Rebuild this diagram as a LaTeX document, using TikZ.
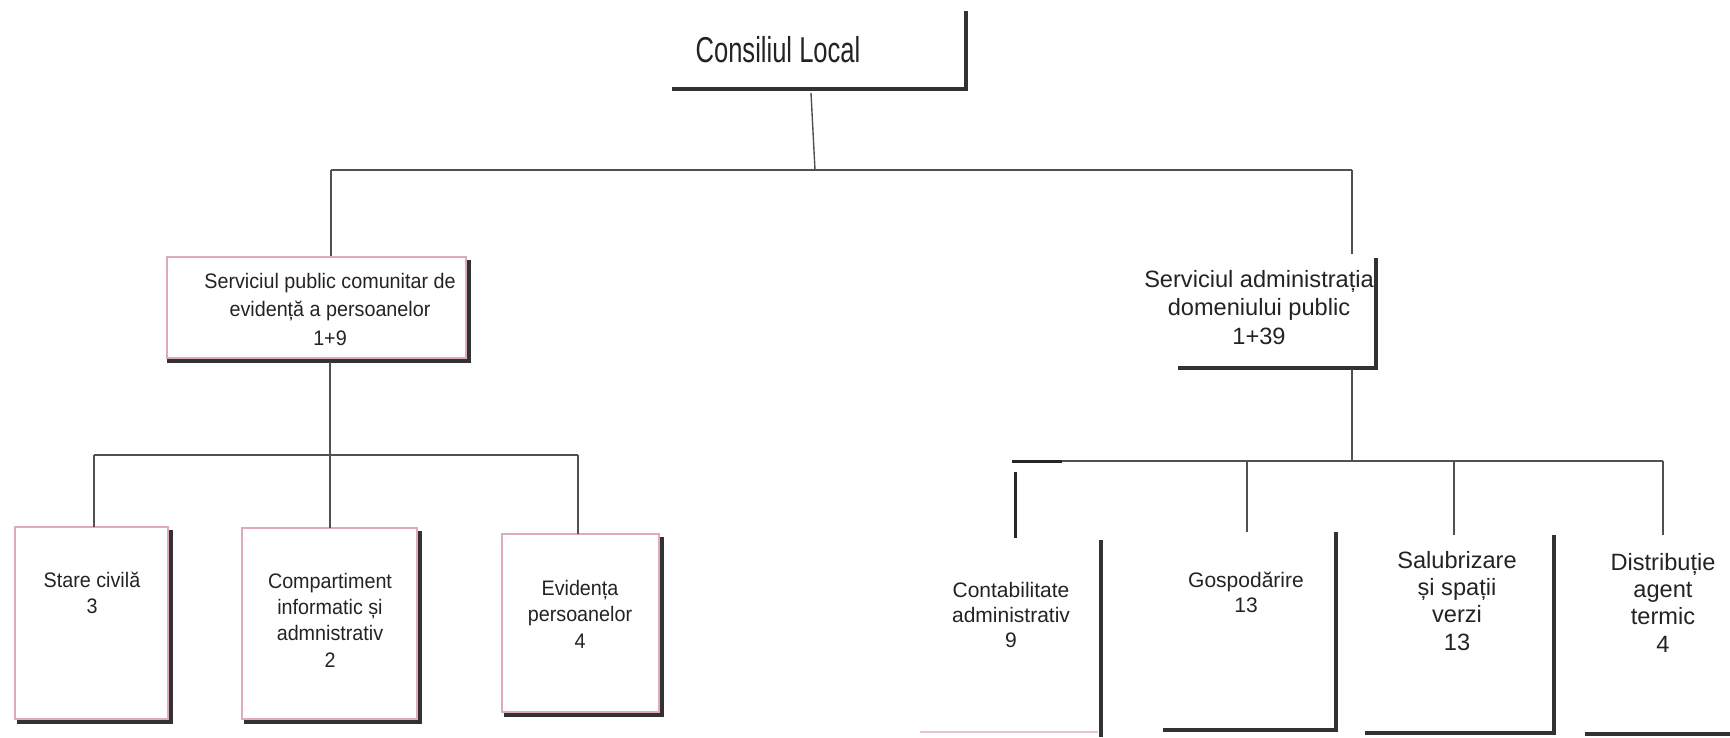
\documentclass[tikz,border=0pt]{standalone}
\usepackage{fontspec}
\setmainfont{Liberation Sans}
\newfontfamily\narrowf[FakeStretch=0.94]{Liberation Sans}
\newfontfamily\cnarrow[FakeStretch=0.71]{Liberation Sans}
\usetikzlibrary{calc}
\definecolor{pinkline}{RGB}{222,170,188}
\definecolor{shad}{RGB}{50,50,50}
\definecolor{conn}{RGB}{80,80,80}
\definecolor{txt}{RGB}{35,35,35}
\begin{document}
\begin{tikzpicture}[x=1pt,y=-1pt,
  plainbox/.style n args={2}{minimum width=#1, minimum height=#2, inner sep=0, outer sep=0, draw=none},
  pinkbox/.style n args={2}{minimum width=#1, minimum height=#2, inner sep=0, outer sep=0, draw=pinkline, line width=1.2pt},
  shadowline/.style={draw=shad, line width=3.5pt},
  conline/.style={draw=conn, line width=1.4pt},
  stubline/.style={draw=black!85, line width=3pt},
  lbl/.style={anchor=north, inner sep=0, outer sep=0, align=center, text=txt},
  ltxt/.style={lbl, font=\fontsize{21}{#1}\selectfont\narrowf},
  rtxt/.style={lbl, font=\fontsize{21}{#1}\selectfont},
  btxt/.style={lbl, font=\fontsize{23.6}{#1}\selectfont}
]
\useasboundingbox (0,0) rectangle (1730,737);

% ---------- boxes ----------
\node[plainbox={291}{75}] (cl) at (817.5,48.5) {};
\node[pinkbox={299}{101}] (sp) at (316.5,307.5) {};
\node[plainbox={195}{110}] (sa) at (1275.5,310) {};

\node[pinkbox={153}{192}] (sc) at (91.5,623) {};
\node[pinkbox={175}{191}] (ci) at (329.5,623.5) {};
\node[pinkbox={157}{178}] (ep) at (580.5,623) {};

\node[plainbox={178}{190}] (ca) at (1009,635) {};
\node[plainbox={170}{195}] (go) at (1248,629.5) {};
\node[plainbox={186}{195}] (ss) at (1458,632.5) {};
\node[plainbox={175}{196}] (da) at (1672.5,633) {};

% ---------- shadows ----------
\draw[shadowline] ($(cl.south west)+(0,3)$) -- ($(cl.south east)+(3,3)$) -- ($(cl.north east)+(3,0)$);
\draw[shadowline] ($(sp.south west)+(0,3)$) -- ($(sp.south east)+(3,3)$) -- ($(sp.north east)+(3,3)$);
\draw[shadowline] ($(sa.south west)+(0,3)$) -- ($(sa.south east)+(3,3)$) -- ($(sa.north east)+(3,3)$);
\foreach \b in {sc,ci,ep}{
  \draw[shadowline] ($(\b.south west)+(2,3)$) -- ($(\b.south east)+(3,3)$) -- ($(\b.north east)+(3,3)$);
}
\draw[draw=pinkline!70, line width=1.5pt] ($(ca.south west)+(0,2)$) -- ($(ca.south east)+(0,2)$);
\draw[shadowline] ($(ca.north east)+(3,0)$) -- ($(ca.south east)+(3,7)$);
\foreach \b in {go,ss}{
  \draw[shadowline] ($(\b.south west)+(0,3)$) -- ($(\b.south east)+(3,3)$) -- ($(\b.north east)+(3,0)$);
}
\draw[shadowline] ($(da.south west)+(0,3)$) -- ($(da.south east)+(3,3)$);

% ---------- texts ----------
\node[lbl, font=\fontsize{36}{40}\selectfont\cnarrow] (tcl) at (778,36) {Consiliul Local};
\node[ltxt=28.5] (tsp) at (330,273) {Serviciul public comunitar de\\evidență a persoanelor\\1+9};
\node[btxt=28.5] (tsa) at (1259,270) {Serviciul administrația\\domeniului public\\1+39};
\node[ltxt=26] (tsc) at (92,572) {Stare civilă\\3};
\node[ltxt=26.3] (tci) at (330,573) {Compartiment\\informatic și\\admnistrativ\\2};
\node[ltxt=26.5] (tep) at (580,580) {Evidența\\persoanelor\\4};
\node[rtxt=25] (tca) at (1011,582) {Contabilitate\\administrativ\\9};
\node[rtxt=25] (tgo) at (1246,572) {Gospodărire\\13};
\node[btxt=27.3] (tss) at (1457,551) {Salubrizare\\și spații\\verzi\\13};
\node[btxt=27.3] (tda) at (1663,553) {Distribuție\\agent\\termic\\4};

% ---------- connector points ----------
\coordinate (clb) at (811,93);
\coordinate (j0) at (815,170);
\coordinate (hl) at (331,170);
\coordinate (hr) at (1352,170);
\coordinate (spt) at (331,256);
\coordinate (sat) at (1352,254);

\coordinate (spb) at (330,362);
\coordinate (l1) at (94,455);
\coordinate (r1) at (578,455);

\coordinate (sab) at (1352,369);
\coordinate (j2) at (1352,461);
\coordinate (l2) at (1012,461);
\coordinate (l2b) at (1062,461);
\coordinate (r2) at (1663,461);
\coordinate (cat1) at (1015,472);
\coordinate (cat2) at (1015,538);
\coordinate (gt) at (1247,461);
\coordinate (st) at (1454,461);

% ---------- connectors ----------
\draw[conline] (clb) -- (j0);
\draw[conline] (hl) -- (hr);
\draw[conline] (hl) -- (spt);
\draw[conline] (hr) -- (sat);

\draw[conline] (spb) -- (ci.north -| spb);
\draw[conline] (l1) -- (r1);
\draw[conline] (l1) -- (sc.north -| l1);
\draw[conline] (r1) -- (ep.north -| r1);

\draw[conline] (sab) -- (j2);
\draw[conline] (l2) -- (r2);
\draw[stubline] (l2) -- (l2b);
\draw[stubline] (cat1) -- (cat2);
\draw[conline] (gt) -- (go.north -| gt);
\draw[conline] (st) -- (ss.north -| st);
\draw[conline] (r2) -- (da.north -| r2);
\end{tikzpicture}
\end{document}
